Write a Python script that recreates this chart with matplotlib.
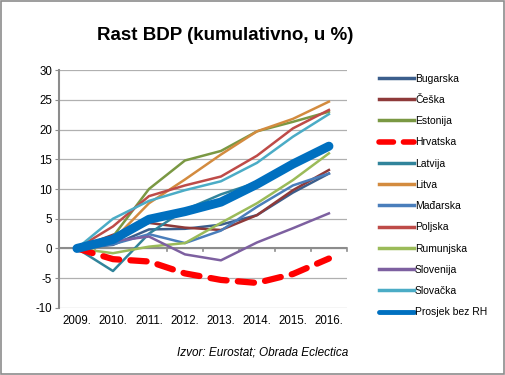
import numpy as np
import matplotlib.pyplot as plt
from matplotlib.patches import Rectangle

plt.rcParams['font.family'] = ['Liberation Sans', 'DejaVu Sans']
plt.rcParams['axes.unicode_minus'] = False

years = ['2009.', '2010.', '2011.', '2012.', '2013.', '2014.', '2015.', '2016.']

bugarska = [0, 0.6, 3.2, 3.3, 4.0, 5.6, 9.4, 12.6]
ceska = [0, 2.3, 4.3, 3.5, 3.1, 5.6, 9.8, 13.2]
estonija = [0, 2.0, 10.0, 14.8, 16.4, 19.7, 21.3, 23.0]
hrvatska = [0, -1.8, -2.2, -4.2, -5.3, -5.8, -4.3, -1.7]
latvija = [0, -3.8, 2.5, 6.5, 9.1, 11.1, 14.4, 17.0]
litva = [0, 1.4, 7.6, 11.6, 15.8, 19.7, 21.8, 24.7]
madjarska = [0, 0.7, 2.4, 0.9, 3.0, 7.0, 10.6, 12.6]
poljska = [0, 3.7, 8.8, 10.6, 12.1, 15.6, 20.2, 23.3]
rumunjska = [0, -0.8, 0.3, 0.9, 4.3, 7.6, 11.5, 16.0]
slovenija = [0, 1.2, 2.0, -1.0, -2.0, 1.0, 3.4, 5.9]
slovacka = [0, 5.0, 8.0, 9.8, 11.3, 14.4, 18.8, 22.6]
prosjek = [0, 1.5, 4.9, 6.2, 7.8, 10.8, 14.2, 17.2]

labels = ['Bugarska', 'Češka', 'Estonija', 'Hrvatska', 'Latvija', 'Litva',
          'Mađarska', 'Poljska', 'Rumunjska', 'Slovenija', 'Slovačka', 'Prosjek bez RH']
series = [bugarska, ceska, estonija, hrvatska, latvija, litva,
          madjarska, poljska, rumunjska, slovenija, slovacka, prosjek]
colors = ['#3B5E8C', '#8E3A3A', '#7A9843', '#FF0000', '#31849B', '#D38B3F',
          '#4A7EBB', '#BE4B48', '#9BBB59', '#7D60A0', '#4BACC6', '#0070C0']

fig = plt.figure(figsize=(5.06, 3.75), dpi=100)
fig.patches.append(Rectangle((0.001, 0.002), 0.996, 0.995, transform=fig.transFigure,
                             fill=False, edgecolor='#8c8c8c', linewidth=1.2))

ax = fig.add_axes([0.1166, 0.179, 0.569, 0.634])
x = np.arange(len(years))

for name, vals, c in zip(labels, series, colors):
    if name == 'Hrvatska':
        ax.plot(x, vals, color=c, lw=4.5, ls=(0, (2.6, 1.8)), dash_capstyle='round',
                label=name, zorder=3)
    elif name == 'Prosjek bez RH':
        ax.plot(x, vals, color=c, lw=6.5, solid_capstyle='round', label=name, zorder=4)
    else:
        ax.plot(x, vals, color=c, lw=1.8, label=name, zorder=2)

ax.set_xlim(-0.5, 7.5)
ax.set_ylim(-10, 30)
ax.set_yticks(range(-10, 31, 5))
ax.yaxis.grid(True, color='#b0b0b0', lw=0.9)
ax.set_axisbelow(True)
for s in ['top', 'right', 'bottom']:
    ax.spines[s].set_visible(False)
ax.spines['left'].set_color('#8c8c8c')
ax.spines['left'].set_linewidth(1.5)
ax.tick_params(axis='y', length=3, color='#8c8c8c', labelsize=8.3, pad=2)

# category axis line at zero with tick marks at category boundaries
ax.axhline(0, color='#8c8c8c', lw=1.5, zorder=1)
for b in np.arange(-0.5, 8, 1.0):
    ax.plot([b, b], [0, -0.5], color='#8c8c8c', lw=1.2, zorder=1, clip_on=False)
ax.set_xticks(x)
ax.set_xticklabels(years)
ax.tick_params(axis='x', length=0, labelsize=8.3, pad=5)

fig.text(0.445, 0.905, 'Rast BDP (kumulativno, u %)', ha='center', va='center',
         fontsize=13.5, fontweight='bold')

leg = fig.legend(loc='upper left', bbox_to_anchor=(0.74, 0.815), frameon=False,
                 fontsize=7.5, handlelength=3.4, handletextpad=0.1,
                 labelspacing=1.08, borderaxespad=0)
for h in leg.get_lines():
    h.set_linewidth(2.5)
leg.get_lines()[3].set_linewidth(4)
leg.get_lines()[11].set_linewidth(3.5)

fig.text(0.52, 0.06, 'Izvor: Eurostat; Obrada Eclectica', ha='center', va='center',
         fontsize=8.5, style='italic')

fig.savefig('out.png', dpi=100)
